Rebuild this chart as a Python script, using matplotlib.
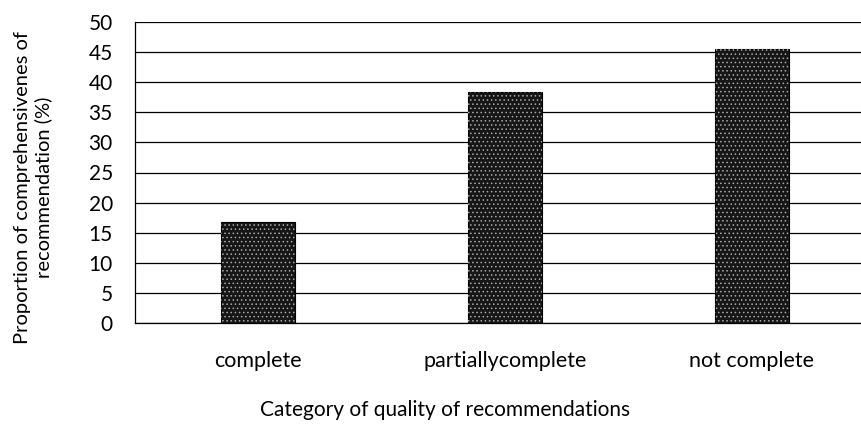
import matplotlib
matplotlib.use("Agg")
import matplotlib.pyplot as plt

plt.rcParams['font.family'] = ['Lato', 'DejaVu Sans']
plt.rcParams['hatch.linewidth'] = 0.6

categories = ["complete", "partially complete", "not complete"]
tick_labels = ["complete", "partiallycomplete", "not complete"]
values = [16.7, 38.3, 45.5]
yticks = [0, 5, 10, 15, 20, 25, 30, 35, 40, 45, 50]

fig = plt.figure(figsize=(8.62, 4.46), dpi=100)
ax = fig.add_axes([135/862, 1 - 323/446, 740/862, 301/446])

x = list(range(len(categories)))
ax.bar(x, values, width=0.30, color='#161616', edgecolor='black', linewidth=0.8, zorder=3)
ax.bar(x, values, width=0.30, facecolor='none', edgecolor='#a8a8a8', hatch='....', linewidth=0, zorder=4)

ax.set_xlim(-0.5, 2.5)
ax.set_ylim(0, 50)
ax.set_yticks(yticks)
ax.set_yticklabels([str(v) for v in yticks], fontsize=15)
ax.set_xticks(x)
ax.set_xticklabels(tick_labels, fontsize=15.5)
ax.tick_params(axis='both', length=0)
ax.tick_params(axis='y', pad=16)
ax.tick_params(axis='x', pad=20)
ax.yaxis.grid(True, color='black', linewidth=0.9, zorder=0)
ax.set_axisbelow(True)
for s in ['top', 'right']:
    ax.spines[s].set_visible(False)
ax.spines['left'].set_linewidth(0.9)
ax.spines['bottom'].set_linewidth(0.9)

fig.text(33/862, 1 - 187/446, "Proportion of comprehensivenes of\nrecommendation (%)",
         rotation=90, ha='center', va='center', fontsize=14.5, linespacing=1.25)
fig.text(445/862, 1 - 410/446, "Category of quality of recommendations",
         ha='center', va='center', fontsize=15)

fig.savefig("out.png", dpi=100)
